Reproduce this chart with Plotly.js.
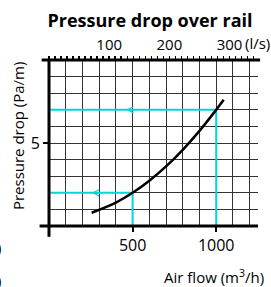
<!DOCTYPE html>
<html>
<head>
<meta charset="utf-8">
<script src="https://cdn.plot.ly/plotly-3.0.1.min.js"></script>
<style>html,body{margin:0;padding:0;background:#fff;}#chart{width:271px;height:287px;}</style>
</head>
<body>
<div id="chart"></div>
<script>
// Pressure drop curve
const flowM3h = [255, 400, 500, 600, 700, 800, 900, 1000, 1045];
const dropPaM = [0.8, 1.41, 2.0, 2.73, 3.59, 4.59, 5.73, 7.0, 7.6];

// Example reading lines (cyan)
const readAx = [0, 1000, 1000];
const readAy = [7, 7, 0];
const readBx = [0, 500, 500];
const readBy = [2, 2, 0];

// Axis ranges / ticks
const xRange = [0, 1250];
const yRange = [0, 10];
const m3hPerLs = 3.6;
const bottomTicks = [500, 1000];
const bottomLabels = ['500', '1000'];
const leftTicks = [5];
const leftLabels = ['5'];
const topTicks = [100, 200, 300];
const topLabels = ['100', '200', '300'];

const FONT = '"Open Sans", "Noto Sans", sans-serif';
const CYAN = '#00d8d8';
const GRID = '#333333';

const traces = [
  {x: readAx, y: readAy, mode: 'lines', line: {color: CYAN, width: 2}, hoverinfo: 'skip', xaxis: 'x', yaxis: 'y'},
  {x: readBx, y: readBy, mode: 'lines', line: {color: CYAN, width: 2}, hoverinfo: 'skip', xaxis: 'x', yaxis: 'y'},
  {x: flowM3h, y: dropPaM, mode: 'lines', line: {color: '#000', width: 2.5, shape: 'spline'}, hoverinfo: 'skip', xaxis: 'x', yaxis: 'y'},
  {x: [xRange[0] / m3hPerLs, xRange[1] / m3hPerLs], y: [null, null], mode: 'lines', xaxis: 'x2', yaxis: 'y', hoverinfo: 'skip'}
];

function arrow(xTip, yTip, axTail, ayTail) {
  return {x: xTip, y: yTip, ax: axTail, ay: ayTail, xref: 'x', yref: 'y', axref: 'x', ayref: 'y',
    text: ' ', showarrow: true, arrowhead: 5, arrowsize: 0.8, arrowwidth: 1.5, arrowcolor: CYAN};
}

const layout = {
  width: 271, height: 287,
  margin: {l: 49, r: 13, t: 60, b: 61},
  paper_bgcolor: '#fff', plot_bgcolor: '#fff',
  showlegend: false,
  font: {family: FONT, size: 15, color: '#000'},
  title: {text: '<b>Pressure drop over rail</b>', x: 150 / 271, xanchor: 'center', xref: 'container',
    y: 1 - 21 / 287, yanchor: 'middle', yref: 'container', font: {family: FONT, size: 18, color: '#000'}},
  xaxis: {range: xRange, tickvals: bottomTicks, ticktext: bottomLabels, ticks: 'outside', ticklen: 5, tickwidth: 2,
    tickcolor: '#000', showgrid: true, gridcolor: GRID, gridwidth: 1, zeroline: false, showline: false,
    minor: {dtick: 100, tick0: 0, showgrid: true, gridcolor: GRID, gridwidth: 1, ticks: ''},
    tickfont: {size: 16}, fixedrange: true},
  xaxis2: {overlaying: 'x', side: 'top', anchor: 'y', range: [xRange[0] / m3hPerLs, xRange[1] / m3hPerLs],
    tickvals: topTicks, ticktext: topLabels, ticks: 'outside', ticklen: 3, tickwidth: 1.5, tickcolor: '#000',
    showgrid: false, zeroline: false, showline: false,
    minor: {dtick: 10, tick0: 0, ticks: 'outside', ticklen: 3, tickwidth: 1.5, tickcolor: '#000', showgrid: false},
    tickfont: {size: 15}, fixedrange: true},
  yaxis: {range: yRange, tickvals: leftTicks, ticktext: leftLabels, ticks: 'outside', ticklen: 5, tickwidth: 2,
    tickcolor: '#000', showgrid: true, gridcolor: GRID, gridwidth: 1, zeroline: false, showline: false,
    minor: {dtick: 1, tick0: 0, showgrid: true, gridcolor: GRID, gridwidth: 1, ticks: ''},
    tickfont: {size: 16}, fixedrange: true},
  shapes: [
    {type: 'line', xref: 'paper', yref: 'paper', x0: 0, x1: 0, y0: 1, y1: -0.065, line: {color: '#000', width: 3}},
    {type: 'line', xref: 'paper', yref: 'paper', x0: -0.045, x1: 1, y0: 0, y1: 0, line: {color: '#000', width: 3}},
    {type: 'line', xref: 'paper', yref: 'paper', x0: -0.035, x1: 1.01, y0: 1, y1: 1, line: {color: '#000', width: 3}}
  ],
  annotations: [
    arrow(460, 7, 520, 7),
    arrow(255, 2, 315, 2),
    arrow(500, 1.9, 500, 1.1),
    arrow(1000, 1.9, 1000, 1.1),
    {text: 'Pressure drop (Pa/m)', textangle: -90, xref: 'paper', yref: 'paper', x: -0.148, y: 0.542,
      xanchor: 'center', yanchor: 'middle', showarrow: false, font: {size: 15}},
    {text: 'Air flow (m<sup>3</sup>/h)', xref: 'paper', yref: 'paper', x: 1.04, y: -0.305,
      xanchor: 'right', yanchor: 'middle', showarrow: false, font: {size: 15}},
    {text: '(l/s)', xref: 'paper', yref: 'paper', x: 1.065, y: 1.10, xanchor: 'right', yanchor: 'middle',
      showarrow: false, font: {size: 15}},
    {text: ')', xref: 'paper', yref: 'paper', x: -0.22, y: -0.1265, xanchor: 'right', yanchor: 'middle',
      showarrow: false, font: {size: 15}},
    {text: ')', xref: 'paper', yref: 'paper', x: -0.22, y: -0.325, xanchor: 'right', yanchor: 'middle',
      showarrow: false, font: {size: 15}}
  ]
};

Plotly.newPlot('chart', traces, layout, {staticPlot: true, displayModeBar: false});
</script>
</body>
</html>
